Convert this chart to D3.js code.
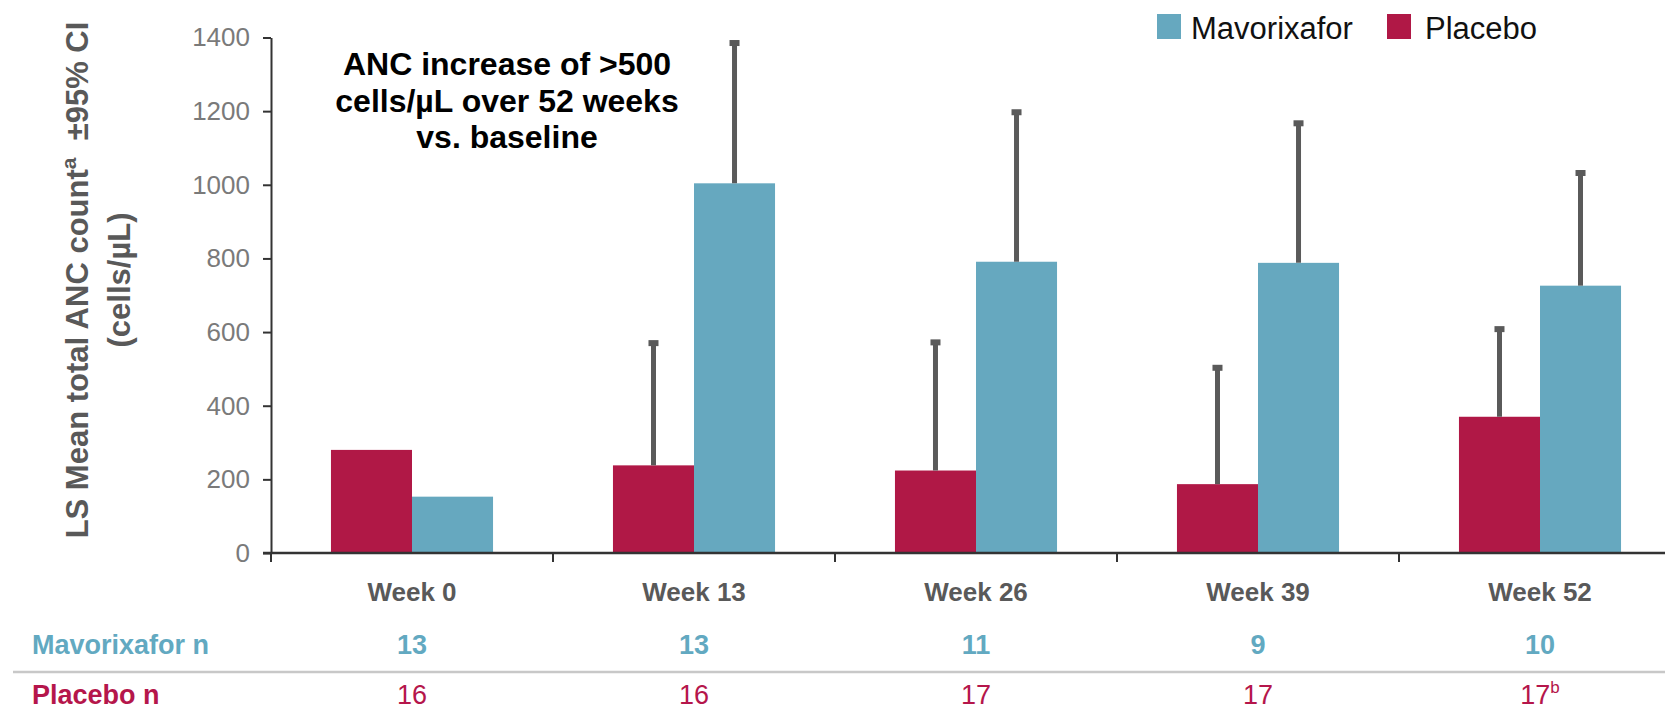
<!DOCTYPE html>
<html>
<head>
<meta charset="utf-8">
<script src="https://cdn.jsdelivr.net/npm/d3@7"></script>
<style>
  html, body { margin: 0; padding: 0; background: #ffffff; }
  svg { display: block; font-family: "Liberation Sans", Arial, sans-serif; }
</style>
</head>
<body>
<svg id="chart" width="1665" height="711"></svg>
<script>
// Visit labels and group counts
const weeks = ["Week 0", "Week 13", "Week 26", "Week 39", "Week 52"];
const mavorixaforN = ["13", "13", "11", "9", "10"];
const placeboN = ["16", "16", "17", "17", "17"];
const placeboNNote = [null, null, null, null, "b"];

// LS mean total ANC (cells/µL) and upper 95% CI limits
const placeboMean = [280, 238, 224, 187, 370];
const placeboUpper = [null, 570, 572, 503, 608];
const mavorixaforMean = [153, 1004, 791, 788, 726];
const mavorixaforUpper = [null, 1385, 1197, 1167, 1032];

const yTicks = [0, 200, 400, 600, 800, 1000, 1200, 1400];
const seriesNames = ["Placebo", "Mavorixafor"];

const colors = { Mavorixafor: "#66a8bf", Placebo: "#b01846" };
const textTeal = "#62a9c1";
const textCrimson = "#b5164b";
const axisGray = "#595959";

const svg = d3.select("#chart");

const plot = { left: 271, right: 1681, top: 37.5, bottom: 553 };

const x = d3.scaleBand().domain(weeks).range([plot.left, plot.right]);
const xs = d3.scaleBand().domain(seriesNames).range([0, x.bandwidth()])
  .paddingInner(0).paddingOuter(0.74);
const y = d3.scaleLinear().domain([0, 1400]).range([plot.bottom, plot.top]);

const rows = weeks.map((w, i) => ({
  week: w,
  values: [
    { key: "Placebo", mean: placeboMean[i], upper: placeboUpper[i] },
    { key: "Mavorixafor", mean: mavorixaforMean[i], upper: mavorixaforUpper[i] }
  ]
}));

// Bars
const groups = svg.append("g").selectAll("g")
  .data(rows).join("g")
  .attr("transform", d => `translate(${x(d.week)},0)`);

groups.selectAll("rect")
  .data(d => d.values).join("rect")
  .attr("x", d => xs(d.key))
  .attr("width", xs.bandwidth())
  .attr("y", d => y(d.mean))
  .attr("height", d => y(0) - y(d.mean))
  .attr("fill", d => colors[d.key]);

// Upper CI whiskers with small caps
const whiskers = groups.selectAll("g.whisker")
  .data(d => d.values.filter(v => v.upper != null)).join("g")
  .attr("class", "whisker");

whiskers.append("line")
  .attr("x1", d => xs(d.key) + xs.bandwidth() / 2)
  .attr("x2", d => xs(d.key) + xs.bandwidth() / 2)
  .attr("y1", d => y(d.mean))
  .attr("y2", d => y(d.upper))
  .attr("stroke", "#5a5a5a")
  .attr("stroke-width", 5);

whiskers.append("rect")
  .attr("x", d => xs(d.key) + xs.bandwidth() / 2 - 5)
  .attr("y", d => y(d.upper) - 3)
  .attr("width", 10)
  .attr("height", 6)
  .attr("fill", "#5a5a5a");

// Y axis
const yAxis = svg.append("g")
  .attr("transform", `translate(${plot.left},0)`)
  .call(d3.axisLeft(y).tickValues(yTicks).tickFormat(d3.format("d"))
    .tickSize(8).tickSizeOuter(0).tickPadding(13));
yAxis.select(".domain").attr("stroke", "#333").attr("stroke-width", 2);
yAxis.selectAll(".tick line").attr("stroke", "#333").attr("stroke-width", 2);
yAxis.selectAll(".tick text")
  .attr("fill", "#7a7a7a")
  .style("font-size", "26px")
  .style("font-family", "Liberation Sans, Arial, sans-serif");

// X axis: baseline, boundary ticks and visit labels
svg.append("line")
  .attr("x1", plot.left - 8).attr("x2", 1665)
  .attr("y1", y(0)).attr("y2", y(0))
  .attr("stroke", "#333").attr("stroke-width", 2.5);

svg.append("g").selectAll("line")
  .data(weeks).join("line")
  .attr("x1", d => x(d)).attr("x2", d => x(d))
  .attr("y1", y(0)).attr("y2", y(0) + 9)
  .attr("stroke", "#333").attr("stroke-width", 2);

svg.append("g").selectAll("text")
  .data(weeks).join("text")
  .attr("x", d => x(d) + x.bandwidth() / 2)
  .attr("y", 601)
  .attr("text-anchor", "middle")
  .attr("fill", axisGray)
  .style("font-size", "26px")
  .style("font-weight", "bold")
  .text(d => d);

// Y axis title
const yTitle = svg.append("text")
  .attr("transform", "translate(88,280) rotate(-90)")
  .attr("text-anchor", "middle")
  .attr("fill", axisGray)
  .style("font-size", "31px")
  .style("font-weight", "bold")
  .style("white-space", "pre");
yTitle.append("tspan").text("LS Mean total ANC count");
yTitle.append("tspan").attr("dy", -12).style("font-size", "21px").text("a");
yTitle.append("tspan").attr("dy", 12).text("  ±95% CI");

svg.append("text")
  .attr("transform", "translate(130,280) rotate(-90)")
  .attr("text-anchor", "middle")
  .attr("fill", axisGray)
  .style("font-size", "31px")
  .style("font-weight", "bold")
  .text("(cells/µL)");

// Annotation
const note = ["ANC increase of >500", "cells/µL over 52 weeks", "vs. baseline"];
svg.append("g").selectAll("text")
  .data(note).join("text")
  .attr("x", 507)
  .attr("y", (d, i) => 75 + i * 36.7)
  .attr("text-anchor", "middle")
  .attr("fill", "#000")
  .style("font-size", "32px")
  .style("font-weight", "bold")
  .text(d => d);

// Legend
const legendItems = [
  { key: "Mavorixafor", sx: 1157, tx: 1191 },
  { key: "Placebo", sx: 1387, tx: 1425 }
];
const legend = svg.append("g").selectAll("g").data(legendItems).join("g");
legend.append("rect")
  .attr("x", d => d.sx).attr("y", 14)
  .attr("width", 24).attr("height", 25)
  .attr("fill", d => colors[d.key]);
legend.append("text")
  .attr("x", d => d.tx).attr("y", 39)
  .attr("fill", "#111")
  .style("font-size", "31px")
  .text(d => d.key);

// Patient count table
svg.append("text")
  .attr("x", 32).attr("y", 654)
  .attr("fill", textTeal)
  .style("font-size", "27px").style("font-weight", "bold")
  .text("Mavorixafor n");

svg.append("g").selectAll("text")
  .data(mavorixaforN).join("text")
  .attr("x", (d, i) => x(weeks[i]) + x.bandwidth() / 2)
  .attr("y", 654)
  .attr("text-anchor", "middle")
  .attr("fill", textTeal)
  .style("font-size", "27px").style("font-weight", "bold")
  .text(d => d);

svg.append("line")
  .attr("x1", 13).attr("x2", 1665)
  .attr("y1", 672).attr("y2", 672)
  .attr("stroke", "#c8c8c8").attr("stroke-width", 2.5);

svg.append("text")
  .attr("x", 32).attr("y", 704)
  .attr("fill", textCrimson)
  .style("font-size", "27px").style("font-weight", "bold")
  .text("Placebo n");

const pn = svg.append("g").selectAll("text")
  .data(placeboN).join("text")
  .attr("x", (d, i) => x(weeks[i]) + x.bandwidth() / 2)
  .attr("y", 704)
  .attr("text-anchor", "middle")
  .attr("fill", textCrimson)
  .style("font-size", "27px");
pn.append("tspan").text(d => d);
pn.each(function (d, i) {
  if (placeboNNote[i]) {
    d3.select(this).append("tspan")
      .attr("dy", -11)
      .style("font-size", "17px")
      .text(placeboNNote[i]);
  }
});
</script>
</body>
</html>
